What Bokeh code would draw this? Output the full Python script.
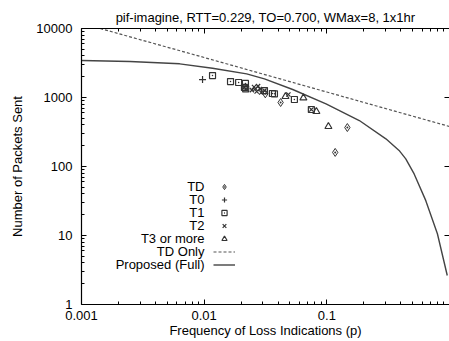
from bokeh.plotting import figure
from bokeh.models import (LogAxis, FixedTicker, CustomJSTickFormatter, Label,
                          Legend, LegendItem, Range1d)
from bokeh.embed import file_html
from bokeh.resources import INLINE

# ---------------- data ----------------
title_text = "pif-imagine, RTT=0.229, TO=0.700, WMax=8, 1x1hr"
x_ticks = [0.001, 0.01, 0.1]
y_ticks = [1, 10, 100, 1000, 10000]

td_p = [0.042, 0.117, 0.147, 0.0315]
td_n = [846, 160, 367, 1130]
t0_p = [0.0097]
t0_n = [1820]
t1_p = [0.0117, 0.0164, 0.0191, 0.0217, 0.0213, 0.0218, 0.0310, 0.0360, 0.0374, 0.0544, 0.0748]
t1_n = [2080, 1700, 1650, 1600, 1400, 1330, 1260, 1143, 1130, 935, 670]
t2_p = [0.0213, 0.0218, 0.0245, 0.0255, 0.0262, 0.0268, 0.0275, 0.0285, 0.0292, 0.0310, 0.0486, 0.0748]
t2_n = [1400, 1330, 1280, 1420, 1340, 1220, 1460, 1330, 1180, 1260, 1105, 670]
t3_p = [0.0460, 0.0644, 0.0822, 0.103]
t3_n = [1034, 985, 627, 380]
tdonly_p = [0.00142, 0.01, 0.1, 1.0]
tdonly_n = [10000, 3800, 1200, 380]
full_p = [0.001, 0.00248, 0.00632, 0.0117, 0.0222, 0.0310, 0.0527, 0.0985,
          0.184, 0.303, 0.388, 0.440, 0.515, 0.641, 0.797, 0.959]
full_n = [3435, 3324, 3077, 2659, 2203, 1866, 1306, 810,
          464, 252, 171, 129, 78, 32, 10.6, 2.63]
legend_labels = ["TD", "T0", "T1", "T2", "T3 or more", "TD Only", "Proposed (Full)"]

FONT = "Liberation Sans"
FS = "13px"
INK = "#333333"

p = figure(width=449, height=341, x_axis_type="log", y_axis_type="log",
           x_range=Range1d(0.001, 1.0), y_range=Range1d(1, 10000),
           output_backend="svg", toolbar_location=None,
           min_border_left=81, min_border_right=0, min_border_top=28,
           min_border_bottom=37, title=title_text)
p.outline_line_color = None
p.xgrid.visible = False
p.ygrid.visible = False
p.background_fill_color = "white"
p.border_fill_color = "white"

p.title.text_font = FONT
p.title.text_font_size = FS
p.title.text_font_style = "normal"
p.title.text_color = "black"
p.title.align = "center"
p.title.standoff = 7

x_minor = [m * 10.0 ** k for k in (-3, -2, -1) for m in range(2, 10)]
y_minor = [m * 10.0 ** k for k in range(0, 4) for m in range(2, 10)]
xt = FixedTicker(ticks=x_ticks, minor_ticks=x_minor)
yt = FixedTicker(ticks=y_ticks, minor_ticks=y_minor)
fmt = CustomJSTickFormatter(code="return tick.toString();")


def style_axis(ax):
    ax.major_tick_in = 5
    ax.major_tick_out = 0
    ax.minor_tick_in = 3
    ax.minor_tick_out = 0
    ax.axis_line_color = "black"
    ax.axis_line_width = 1.2
    ax.major_tick_line_color = "black"
    ax.minor_tick_line_color = "black"
    ax.major_label_text_font = FONT
    ax.major_label_text_font_size = FS
    ax.major_label_text_color = "black"
    ax.axis_label_text_font = FONT
    ax.axis_label_text_font_size = FS
    ax.axis_label_text_font_style = "normal"
    ax.axis_label_text_color = "black"


xa = p.xaxis[0]
ya = p.yaxis[0]
style_axis(xa)
style_axis(ya)
xa.ticker = xt
ya.ticker = yt
xa.formatter = fmt
ya.formatter = fmt
xa.axis_label = "Frequency of Loss Indications (p)"
ya.axis_label = "Number of Packets Sent"
xa.major_label_standoff = 6
xa.axis_label_standoff = 0
ya.major_label_standoff = 9
ya.axis_label_standoff = 8

blank = CustomJSTickFormatter(code="return '';")
top = LogAxis(ticker=FixedTicker(ticks=x_ticks, minor_ticks=x_minor), formatter=blank)
style_axis(top)
top.major_label_text_font_size = "0px"
top.major_label_standoff = 0
p.add_layout(top, "above")

right = LogAxis(ticker=FixedTicker(ticks=y_ticks, minor_ticks=[]), formatter=blank)
style_axis(right)
right.axis_line_color = None
right.major_label_text_font_size = "0px"
right.major_label_standoff = 0
p.add_layout(right, "right")

# ---------------- glyphs ----------------
r_tdonly = p.line(tdonly_p, tdonly_n, line_color="#555555", line_width=1.2, line_dash="3 2")
r_full = p.line(full_p, full_n, line_color="#444444", line_width=1.4)

r_td = p.scatter(td_p, td_n, marker="diamond_dot", size=8, line_color=INK, fill_color=None, line_width=1)
r_t0 = p.scatter(t0_p, t0_n, marker="cross", size=7, line_color=INK, line_width=1.2)
r_t1 = p.scatter(t1_p, t1_n, marker="square_dot", size=6, line_color=INK, fill_color=None, line_width=1.2)
r_t2 = p.scatter(t2_p, t2_n, marker="x", size=6, line_color=INK, line_width=1.2)
r_t3 = p.scatter(t3_p, t3_n, marker="triangle", size=7, line_color=INK, fill_color=None, line_width=1.2)

renderers = [r_td, r_t0, r_t1, r_t2, r_t3, r_tdonly, r_full]
legend = Legend(items=[LegendItem(label=" ", renderers=[r]) for r in renderers],
                location=(132, 33), glyph_width=22, glyph_height=13, label_height=13,
                label_width=0, label_standoff=0, spacing=0, padding=0, margin=0,
                label_text_font_size="1px", border_line_color=None,
                background_fill_alpha=0)
p.add_layout(legend, "center")

for i, s in enumerate(legend_labels):
    p.add_layout(Label(x=123, y=118 - 13 * i, x_units="screen", y_units="screen",
                       text=s, text_align="right", text_baseline="middle",
                       text_font=FONT, text_font_size=FS, text_color="black"))

open("out.html", "w").write(file_html(p, INLINE))
